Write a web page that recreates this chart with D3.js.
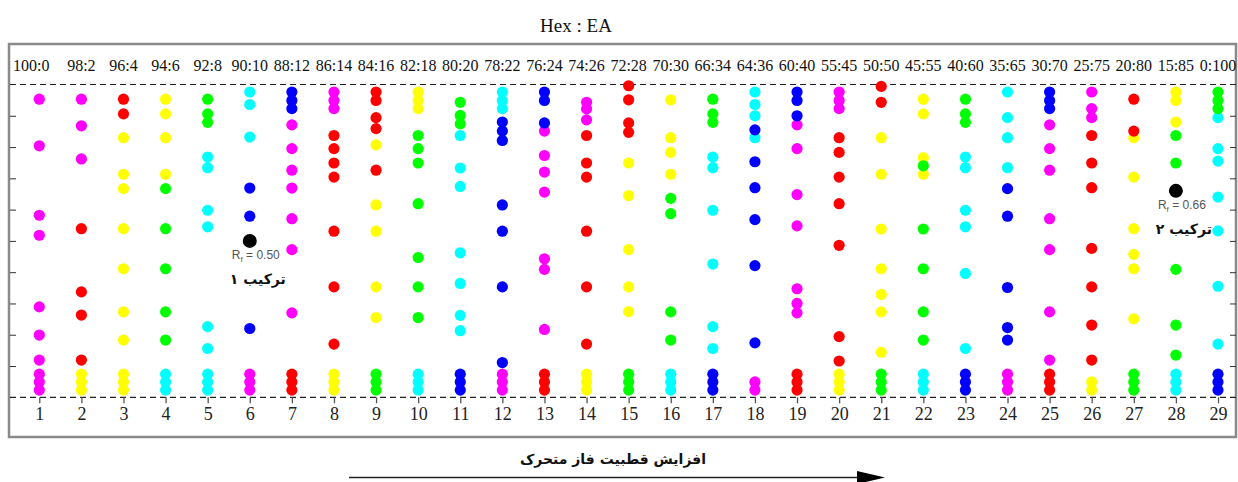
<!DOCTYPE html>
<html><head><meta charset="utf-8">
<script src="https://cdn.jsdelivr.net/npm/d3@7"></script>
<style>body{margin:0;background:#fff}</style>
</head><body>
<svg id="c" width="1238" height="482"></svg>
<script>
const ratioLabels = ["100:0","98:2","96:4","94:6","92:8","90:10","88:12","86:14","84:16","82:18","80:20","78:22","76:24","74:26","72:28","70:30","66:34","64:36","60:40","55:45","50:50","45:55","40:60","35:65","30:70","25:75","20:80","15:85","0:100"];
const lanes = d3.range(1, 30);
const yTicks = [0,0.1,0.2,0.3,0.4,0.5,0.6,0.7,0.8,0.9,1.0];

// [lane, Rf]
const yellowSpots = [
 [2,0.074],[2,0.049],[2,0.023],
 [3,0.830],[3,0.713],[3,0.667],[3,0.539],[3,0.411],[3,0.273],[3,0.183],[3,0.074],[3,0.049],[3,0.023],
 [4,0.953],[4,0.906],[4,0.830],[4,0.713],
 [8,0.074],[8,0.049],[8,0.023],
 [9,0.807],[9,0.615],[9,0.531],[9,0.353],[9,0.255],
 [10,0.976],[10,0.949],[10,0.923],
 [14,0.074],[14,0.049],[14,0.023],
 [15,0.749],[15,0.645],[15,0.472],[15,0.353],[15,0.274],
 [16,0.951],[16,0.830],[16,0.783],[16,0.713],
 [20,0.074],[20,0.049],[20,0.023],
 [21,0.830],[21,0.713],[21,0.538],[21,0.411],[21,0.329],[21,0.273],[21,0.144],
 [22,0.953],[22,0.906],[22,0.766],[22,0.713],
 [26,0.049],[26,0.023],
 [27,0.830],[27,0.704],[27,0.539],[27,0.457],[27,0.411],[27,0.251],
 [28,0.976],[28,0.949],[28,0.880]
];
const cyanSpots = [
 [4,0.074],[4,0.049],[4,0.023],
 [5,0.768],[5,0.734],[5,0.598],[5,0.545],[5,0.226],[5,0.156],[5,0.074],[5,0.049],[5,0.023],
 [6,0.976],[6,0.936],[6,0.832],
 [10,0.074],[10,0.049],[10,0.023],
 [11,0.837],[11,0.733],[11,0.674],[11,0.462],[11,0.364],[11,0.262],[11,0.213],
 [12,0.976],[12,0.949],[12,0.923],
 [16,0.074],[16,0.049],[16,0.023],
 [17,0.768],[17,0.734],[17,0.598],[17,0.426],[17,0.226],[17,0.156],
 [18,0.976],[18,0.936],[18,0.900],[18,0.830],
 [22,0.074],[22,0.049],[22,0.023],
 [23,0.768],[23,0.734],[23,0.598],[23,0.545],[23,0.396],[23,0.156],
 [24,0.976],[24,0.894],[24,0.830],[24,0.734],
 [28,0.074],[28,0.049],[28,0.023],
 [29,0.894],[29,0.795],[29,0.755],[29,0.640],[29,0.532],[29,0.355],[29,0.170]
];
const magentaSpots = [
 [1,0.953],[1,0.804],[1,0.582],[1,0.518],[1,0.289],[1,0.199],[1,0.119],[1,0.074],[1,0.049],[1,0.023],
 [2,0.953],[2,0.868],[2,0.762],
 [6,0.074],[6,0.049],[6,0.023],
 [7,0.871],[7,0.795],[7,0.726],[7,0.669],[7,0.571],[7,0.472],[7,0.270],
 [8,0.976],[8,0.949],[8,0.923],
 [12,0.074],[12,0.049],[12,0.023],
 [13,0.851],[13,0.773],[13,0.720],[13,0.656],[13,0.443],[13,0.409],[13,0.217],
 [14,0.943],[14,0.922],[14,0.887],
 [18,0.049],[18,0.023],
 [19,0.871],[19,0.795],[19,0.648],[19,0.548],[19,0.347],[19,0.300],[19,0.270],
 [20,0.976],[20,0.949],[20,0.923],
 [24,0.074],[24,0.049],[24,0.023],
 [25,0.871],[25,0.795],[25,0.726],[25,0.571],[25,0.472],[25,0.273],[25,0.119],
 [26,0.976],[26,0.923],[26,0.894]
];
const greenSpots = [
 [4,0.667],[4,0.539],[4,0.411],[4,0.273],[4,0.183],
 [5,0.953],[5,0.906],[5,0.879],
 [9,0.074],[9,0.049],[9,0.023],
 [10,0.837],[10,0.795],[10,0.749],[10,0.619],[10,0.447],[10,0.353],[10,0.255],
 [11,0.943],[11,0.901],[11,0.874],
 [15,0.074],[15,0.049],[15,0.023],
 [16,0.636],[16,0.587],[16,0.273],[16,0.183],
 [17,0.953],[17,0.906],[17,0.879],
 [21,0.074],[21,0.049],[21,0.023],
 [22,0.740],[22,0.538],[22,0.411],[22,0.273],[22,0.183],
 [23,0.953],[23,0.906],[23,0.879],
 [27,0.074],[27,0.049],[27,0.023],
 [28,0.837],[28,0.749],[28,0.409],[28,0.231],[28,0.135],
 [29,0.976],[29,0.949],[29,0.923]
];
const redSpots = [
 [2,0.539],[2,0.337],[2,0.263],[2,0.119],
 [3,0.953],[3,0.906],
 [7,0.074],[7,0.049],[7,0.023],
 [8,0.837],[8,0.795],[8,0.749],[8,0.704],[8,0.531],[8,0.353],[8,0.170],
 [9,0.976],[9,0.949],[9,0.894],[9,0.859],[9,0.726],
 [13,0.074],[13,0.049],[13,0.023],
 [14,0.837],[14,0.749],[14,0.704],[14,0.531],[14,0.353],[14,0.170],
 [15,0.996],[15,0.951],[15,0.877],[15,0.847],
 [19,0.074],[19,0.049],[19,0.023],
 [20,0.830],[20,0.783],[20,0.704],[20,0.619],[20,0.486],[20,0.194],[20,0.116],
 [21,0.994],[21,0.943],
 [25,0.074],[25,0.049],[25,0.023],
 [26,0.837],[26,0.749],[26,0.670],[26,0.476],[26,0.353],[26,0.231],[26,0.119],
 [27,0.953],[27,0.851]
];
const blueSpots = [
 [6,0.669],[6,0.579],[6,0.220],
 [7,0.976],[7,0.949],[7,0.923],
 [11,0.074],[11,0.049],[11,0.023],
 [12,0.880],[12,0.851],[12,0.821],[12,0.615],[12,0.531],[12,0.353],[12,0.111],
 [13,0.976],[13,0.949],[13,0.877],
 [17,0.074],[17,0.049],[17,0.023],
 [18,0.855],[18,0.753],[18,0.670],[18,0.568],[18,0.421],[18,0.174],
 [19,0.976],[19,0.949],[19,0.900],
 [23,0.074],[23,0.049],[23,0.023],
 [24,0.667],[24,0.579],[24,0.351],[24,0.223],[24,0.183],
 [25,0.976],[25,0.949],[25,0.923],
 [29,0.074],[29,0.049],[29,0.023]
];
const highlights = [
 {lane:6, rf:0.50, label:"0.50", name:"ترکیب ۱"},
 {lane:28, rf:0.66, label:"0.66", name:"ترکیب ۲"}
];
const seriesList = [
 {spots:yellowSpots, color:"#ffff00"},
 {spots:cyanSpots, color:"#00ffff"},
 {spots:magentaSpots, color:"#ff00ff"},
 {spots:greenSpots, color:"#00ff00"},
 {spots:redSpots, color:"#ff0000"},
 {spots:blueSpots, color:"#0000ff"}
];

const svg = d3.select("#c");
const x = d3.scaleLinear().domain([1,29]).range([39.3,1218]);
const y = d3.scaleLinear().domain([0,1]).range([397.3,84.5]);
const L = 10, R = 1236;

// frame
svg.append("rect").attr("x",9).attr("y",44).attr("width",1227).attr("height",393)
  .attr("fill","none").attr("stroke","#8a8a8a").attr("stroke-width",2.5);

// title
svg.append("text").attr("x",576).attr("y",32).attr("text-anchor","middle")
  .attr("font-family","Liberation Serif").attr("font-size",19).attr("fill","#111").text("Hex : EA");

// dashed lines
[0,1].forEach(v=>{
  svg.append("line").attr("x1",L).attr("x2",R).attr("y1",y(v)).attr("y2",y(v))
    .attr("stroke","#222").attr("stroke-width",1.2).attr("stroke-dasharray","6,4");
});

// left & right axes ticks
const yl = d3.axisRight(y).tickValues(yTicks.slice(1,-1)).tickSize(6).tickFormat("");
const gl = svg.append("g").attr("transform",`translate(${L},0)`).call(yl);
gl.select(".domain").remove();
gl.selectAll("line").attr("stroke","#333");
const yr = d3.axisLeft(y).tickValues(yTicks.slice(1,-1)).tickSize(6).tickFormat("");
const gr = svg.append("g").attr("transform",`translate(${R},0)`).call(yr);
gr.select(".domain").remove();
gr.selectAll("line").attr("stroke","#333");

// bottom axis
const xb = d3.axisBottom(x).tickValues(lanes).tickSize(6).tickFormat(d3.format("d")).tickPadding(4);
const gb = svg.append("g").attr("transform",`translate(0,${y(0)})`).call(xb);
gb.select(".domain").remove();
gb.selectAll("line").attr("stroke","#555").attr("stroke-width",1.3);
gb.selectAll("text").attr("font-family","Liberation Serif").attr("font-size",18).attr("fill","#222");

// top ratio labels
svg.append("g").selectAll("text").data(lanes).join("text")
  .attr("x",d=>x(d)).attr("y",71).attr("text-anchor","middle")
  .attr("dx",d=>d===1?-8:0)
  .attr("font-family","Liberation Serif").attr("font-size",16).attr("fill","#111")
  .text((d,i)=>ratioLabels[i]);

// spots
seriesList.forEach(s=>{
  svg.append("g").selectAll("circle").data(s.spots).join("circle")
    .attr("cx",d=>x(d[0])).attr("cy",d=>y(d[1])).attr("r",5.6).attr("fill",s.color);
});

// highlighted compounds
highlights.forEach(h=>{
  svg.append("circle").attr("cx",x(h.lane)).attr("cy",y(h.rf)).attr("r",7).attr("fill","#000");
  const t = svg.append("text").attr("x",x(h.lane)+6).attr("y",y(h.rf)+18).attr("text-anchor","middle")
    .attr("font-family","Liberation Sans").attr("font-size",12).attr("fill","#555");
  t.append("tspan").text("R");
  t.append("tspan").attr("font-size",8).attr("dy",3).text("f");
  t.append("tspan").attr("dy",-3).text(" = "+h.label);
  svg.append("text").attr("x",x(h.lane)+8).attr("y",y(h.rf)+43).attr("text-anchor","middle")
    .attr("font-family","DejaVu Sans").attr("font-weight","bold").attr("font-size",14)
    .attr("direction","rtl").attr("fill","#111").text(h.name);
});

// bottom arrow + caption
svg.append("text").attr("x",613).attr("y",464).attr("text-anchor","middle")
  .attr("font-family","DejaVu Sans").attr("font-weight","bold").attr("font-size",14)
  .attr("direction","rtl").attr("fill","#111").text("افزایش قطبیت فاز متحرک");
svg.append("line").attr("x1",349).attr("x2",860).attr("y1",477.5).attr("y2",477.5)
  .attr("stroke","#222").attr("stroke-width",1.5);
svg.append("path").attr("d","M857,471 L885,477.5 L857,484 Z").attr("fill","#000");
</script>
</body></html>
